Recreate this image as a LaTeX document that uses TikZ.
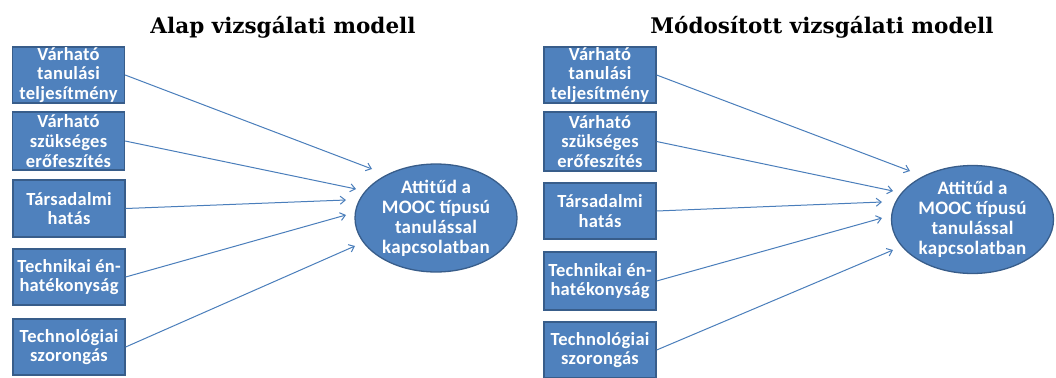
\documentclass[tikz,border=0pt]{standalone}
\usepackage{fontspec}
\setmainfont{Carlito}[LetterSpace=1.5]
\newfontfamily\titlefont{DejaVu Serif}
\usetikzlibrary{shapes.geometric,arrows.meta}
\definecolor{boxfill}{HTML}{4F81BD}
\definecolor{boxline}{HTML}{385D8A}
\definecolor{arrowc}{HTML}{4A7EBB}
\tikzset{
  box/.style={draw=boxline, line width=1.3bp, fill=boxfill, text=white, inner sep=0pt,
    minimum width=112bp, align=center,
    font=\bfseries\fontsize{18.5bp}{19.8bp}\selectfont},
  oval/.style={ellipse, draw=boxline, line width=1.3bp, fill=boxfill, text=white, inner sep=0pt,
    minimum width=162bp, minimum height=91bp, align=center,
    font=\bfseries\fontsize{19bp}{20bp}\selectfont},
  ttl/.style={font=\titlefont\bfseries\fontsize{21.5bp}{24bp}\selectfont, text=black, anchor=base, inner sep=0pt},
  arr/.style={draw=arrowc, line width=1bp, -{Straight Barb[length=5bp,width=8bp]}}
}
\begin{document}
\begin{tikzpicture}[x=1bp,y=-1bp]
\useasboundingbox (0,0) rectangle (1056,377);
\fill[white] (0,0) rectangle (1056,377);
% titles
\node[ttl] (t1) at (283,33) {Alap vizsgálati modell};
\node[ttl] (t2) at (822,33) {Módosított vizsgálati modell};
% left panel
\node[box, minimum height=56bp] (a1) at (68.5,75) {Várható\\tanulási\\teljesítmény};
\node[box, minimum height=58bp] (a2) at (68.5,141) {Várható\\szükséges\\erőfeszítés};
\node[box, minimum height=57bp] (a3) at (69,208.5) {Társadalmi\\hatás};
\node[box, minimum height=56bp] (a4) at (69,277) {Technikai én-\\hatékonyság};
\node[box, minimum height=56bp] (a5) at (69,347) {Technológiai\\szorongás};
\node[oval] (ae) at (436,218) {Attitűd a\\MOOC típusú\\tanulással\\kapcsolatban};
\coordinate (ap1) at (372,169);
\coordinate (ap2) at (356,189);
\coordinate (ap3) at (346,200);
\coordinate (ap4) at (346,215);
\coordinate (ap5) at (355,246);
\draw[arr] (a1.east) -- (ap1);
\draw[arr] (a2.east) -- (ap2);
\draw[arr] (a3.east) -- (ap3);
\draw[arr] (a4.east) -- (ap4);
\draw[arr] (a5.east) -- (ap5);
% right panel
\node[box, minimum height=56bp] (b1) at (600,75) {Várható\\tanulási\\teljesítmény};
\node[box, minimum height=59bp] (b2) at (600,141.5) {Várható\\szükséges\\erőfeszítés};
\node[box, minimum height=56bp] (b3) at (600,211) {Társadalmi\\hatás};
\node[box, minimum height=58bp] (b4) at (600,281) {Technikai én-\\hatékonyság};
\node[box, minimum height=56bp] (b5) at (600,350) {Technológiai\\szorongás};
\node[oval, minimum height=95bp] (be) at (972.5,219.5) {Attitűd a\\MOOC típusú\\tanulással\\kapcsolatban};
\coordinate (bp1) at (910,171);
\coordinate (bp2) at (893,191);
\coordinate (bp3) at (882,202);
\coordinate (bp4) at (882,218);
\coordinate (bp5) at (893,250);
\draw[arr] (b1.east) -- (bp1);
\draw[arr] (b2.east) -- (bp2);
\draw[arr] (b3.east) -- (bp3);
\draw[arr] (b4.east) -- (bp4);
\draw[arr] (b5.east) -- (bp5);
\end{tikzpicture}
\end{document}
